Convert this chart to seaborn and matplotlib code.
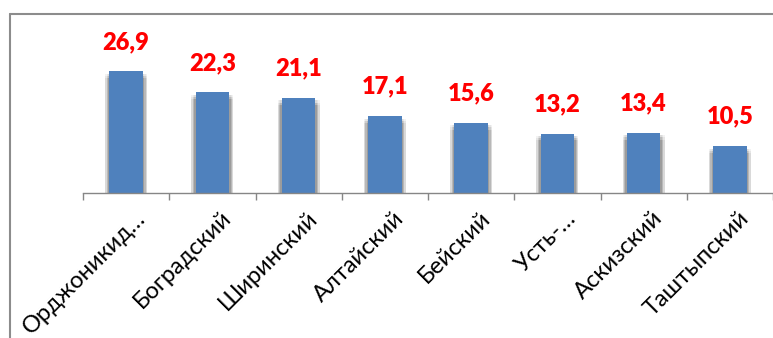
import matplotlib
matplotlib.use("Agg")
import matplotlib.pyplot as plt
import matplotlib.patheffects as pe
from matplotlib.lines import Line2D
from matplotlib.transforms import ScaledTranslation
import seaborn as sns
import pandas as pd

districts = ["Орджоникид…", "Боградский", "Ширинский", "Алтайский",
             "Бейский", "Усть-…", "Аскизский", "Таштыпский"]
values = [26.9, 22.3, 21.1, 17.1, 15.6, 13.2, 13.4, 10.5]

df = pd.DataFrame({"district": districts, "value": values})

sns.set_theme(style="white")
plt.rcParams["font.family"] = ["Lato", "DejaVu Sans"]

W, H = 773, 338
fig = plt.figure(figsize=(W / 100, H / 100), dpi=100)
fig.patch.set_facecolor("white")

# plot area in pixel terms: baseline at y=193, left edge at x=83
left_px, base_px, top_px = 83, 193.3, 14
ax = fig.add_axes([left_px / W, (H - base_px) / H,
                   (W - left_px) / W, (base_px - top_px) / H])
ax.set_facecolor("none")

sns.barplot(data=df, x="district", y="value", color="#4F81BD",
            width=0.39, saturation=1, ax=ax)

px_per_unit = 4.53
cat_px = 88.2
ax.set_ylim(0, (base_px - top_px) / px_per_unit)
ax.set_xlim(-0.5, -0.5 + (W - left_px) / cat_px)

# soft shadow around each bar
shadow = []
for dx in (-3.0, -2.0, -1.0, 1.0, 2.0, 3.0):
    for dy in (-2.0, -3.5, -5.0):
        shadow.append(pe.SimplePatchShadow(offset=(dx, dy), shadow_rgbFace="black", alpha=0.05))
for p in ax.patches:
    p.set_path_effects(shadow + [pe.Normal()])
    p.set_edgecolor("none")

# value labels
for i, v in enumerate(values):
    ax.annotate(f"{v:.1f}".replace(".", ","), xy=(i, v), xytext=(0, 13),
                textcoords="offset points", ha="center", va="bottom",
                color="#FF0000", fontsize=17, fontweight="heavy")

for s in ("left", "right", "top"):
    ax.spines[s].set_visible(False)
ax.spines["bottom"].set_color("#868686")
ax.spines["bottom"].set_linewidth(1.0)

ax.set_yticks([])
ax.set_xlabel("")
ax.set_ylabel("")

# category separators as tick marks
ax.set_xticks([i - 0.5 for i in range(len(districts) + 1)], minor=False)
ax.set_xticklabels([])
ax.tick_params(axis="x", which="major", direction="out", length=5, width=1,
               color="#868686", bottom=True)
ax.set_xticks(range(len(districts)), minor=True)
ax.set_xticklabels(districts, minor=True, rotation=45, ha="right",
                   rotation_mode="anchor", fontsize=17, color="black")
ax.tick_params(axis="x", which="minor", length=0, pad=10)
shift = ScaledTranslation(6 / 72, 0, fig.dpi_scale_trans)
for lbl in ax.get_xticklabels(minor=True):
    lbl.set_transform(lbl.get_transform() + shift)

# outer frame
fig.add_artist(Line2D([10 / W, 10 / W], [0, (H - 14) / H], color="#8c8c8c", lw=1.5))
fig.add_artist(Line2D([10 / W, 1], [(H - 14) / H, (H - 14) / H], color="#8c8c8c", lw=1.5))

fig.savefig("out.png", dpi=100)
